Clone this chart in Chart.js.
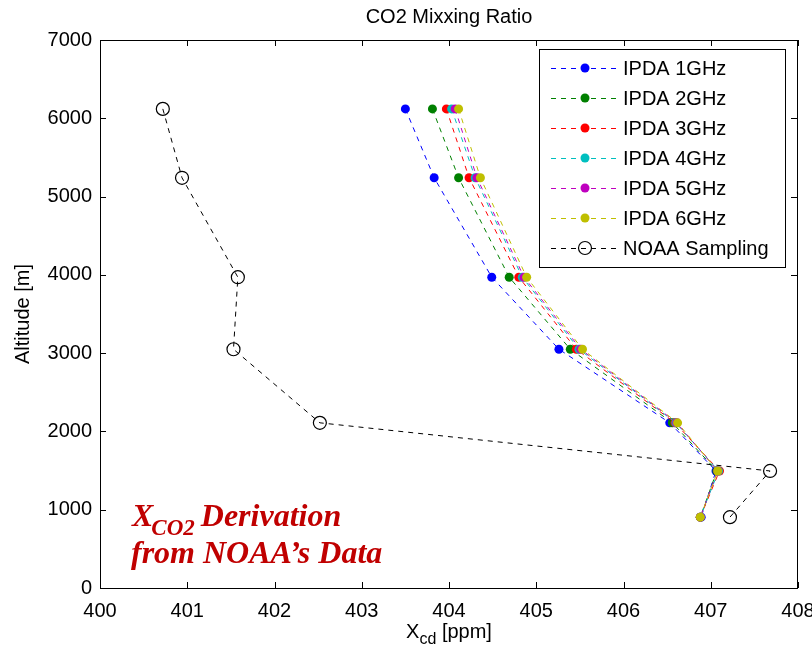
<!DOCTYPE html>
<html>
<head>
<meta charset="utf-8">
<script src="https://cdn.jsdelivr.net/npm/chart.js@4.4.1/dist/chart.umd.min.js"></script>
<style>
  html, body { margin: 0; padding: 0; background: #fff; }
  canvas { display: block; }
</style>
</head>
<body>
<canvas id="chart" width="812" height="652"></canvas>
<script>
// altitude levels [m], shared by every profile
const altitude = [6120, 5240, 3970, 3050, 2110, 1495, 905];

// XCO2 [ppm] per IPDA bandwidth
const ipda1 = [403.50, 403.83, 404.49, 405.26, 406.53, 407.06, 406.89];
const ipda2 = [403.81, 404.11, 404.69, 405.39, 406.56, 407.07, 406.88];
const ipda3 = [403.97, 404.23, 404.80, 405.46, 406.59, 407.10, 406.88];
const ipda4 = [404.03, 404.30, 404.84, 405.49, 406.60, 407.09, 406.88];
const ipda5 = [404.07, 404.32, 404.86, 405.51, 406.61, 407.08, 406.88];
const ipda6 = [404.11, 404.36, 404.89, 405.53, 406.62, 407.08, 406.88];
const noaa  = [400.72, 400.94, 401.58, 401.53, 402.52, 407.68, 407.22];

const seriesLabels = ['IPDA 1GHz', 'IPDA 2GHz', 'IPDA 3GHz', 'IPDA 4GHz', 'IPDA 5GHz', 'IPDA 6GHz', 'NOAA Sampling'];
const seriesValues = [ipda1, ipda2, ipda3, ipda4, ipda5, ipda6, noaa];
const seriesColors = ['#0000ff', '#008000', '#ff0000', '#00bfbf', '#bf00bf', '#bfbf00', '#000000'];

const xTicks = [400, 401, 402, 403, 404, 405, 406, 407, 408];
const yTicks = [0, 1000, 2000, 3000, 4000, 5000, 6000, 7000];

const FONT = '"Liberation Sans", Arial, Helvetica, sans-serif';

const datasets = seriesValues.map((vals, i) => {
  const isNoaa = i === seriesValues.length - 1;
  return {
    label: seriesLabels[i],
    data: vals.map((v, k) => ({ x: v, y: altitude[k] })),
    showLine: true,
    borderColor: seriesColors[i],
    borderWidth: 1,
    borderDash: [5, 5],
    backgroundColor: isNoaa ? 'rgba(0,0,0,0)' : seriesColors[i],
    pointBackgroundColor: isNoaa ? 'rgba(0,0,0,0)' : seriesColors[i],
    pointBorderColor: seriesColors[i],
    pointBorderWidth: isNoaa ? 1.2 : 0,
    pointRadius: isNoaa ? 6.5 : 4.5,
    pointHoverRadius: isNoaa ? 6.5 : 4.5,
    // later IPDA series sit on top, as in the plot
    order: isNoaa ? 7 : 6 - i,
    clip: false
  };
});

// frame, inside ticks, legend, titles and note
const decorations = {
  id: 'decorations',
  afterDraw(chart) {
    const ctx = chart.ctx;
    const a = chart.chartArea;
    const xs = chart.scales.x, ys = chart.scales.y;
    ctx.save();

    // box
    ctx.strokeStyle = '#000';
    ctx.lineWidth = 1;
    ctx.setLineDash([]);
    ctx.strokeRect(Math.round(a.left) + 0.5, Math.round(a.top) + 0.5,
      Math.round(a.right - a.left) - 1, Math.round(a.bottom - a.top));

    // inside ticks
    const tl = 6;
    ctx.beginPath();
    xTicks.forEach(v => {
      const px = Math.round(xs.getPixelForValue(v)) + 0.5;
      ctx.moveTo(px, a.bottom); ctx.lineTo(px, a.bottom - tl);
      ctx.moveTo(px, a.top); ctx.lineTo(px, a.top + tl);
    });
    yTicks.forEach(v => {
      const py = Math.round(ys.getPixelForValue(v)) + 0.5;
      ctx.moveTo(a.left, py); ctx.lineTo(a.left + tl, py);
      ctx.moveTo(a.right - 1, py); ctx.lineTo(a.right - 1 - tl, py);
    });
    ctx.stroke();

    // title
    ctx.fillStyle = '#000';
    ctx.font = '20px ' + FONT;
    ctx.textAlign = 'center';
    ctx.textBaseline = 'middle';
    ctx.fillText('CO2 Mixxing Ratio', (a.left + a.right) / 2, 17);

    // y title
    ctx.save();
    ctx.translate(23, (a.top + a.bottom) / 2);
    ctx.rotate(-Math.PI / 2);
    ctx.fillText('Altitude [m]', 0, 0);
    ctx.restore();

    // x title with subscript
    const cx = (a.left + a.right) / 2;
    const base = 638;
    ctx.textAlign = 'left';
    ctx.textBaseline = 'alphabetic';
    const wX = ctx.measureText('X').width;
    ctx.font = '16px ' + FONT;
    const wSub = ctx.measureText('cd').width;
    ctx.font = '20px ' + FONT;
    const wRest = ctx.measureText(' [ppm]').width;
    let sx = cx - (wX + wSub + wRest) / 2;
    ctx.fillText('X', sx, base);
    ctx.font = '16px ' + FONT;
    ctx.fillText('cd', sx + wX, base + 6);
    ctx.font = '20px ' + FONT;
    ctx.fillText(' [ppm]', sx + wX + wSub, base);

    // legend
    const lx = 539, ly = 49, lw = 246, lh = 218;
    ctx.fillStyle = '#fff';
    ctx.fillRect(lx, ly, lw, lh);
    ctx.strokeStyle = '#000';
    ctx.strokeRect(lx + 0.5, ly + 0.5, lw, lh);
    seriesLabels.forEach((lab, i) => {
      const y = 68 + i * 30;
      const col = seriesColors[i];
      const isNoaa = i === seriesLabels.length - 1;
      ctx.strokeStyle = col;
      ctx.lineWidth = 1;
      ctx.setLineDash([5, 5]);
      ctx.beginPath();
      ctx.moveTo(551, y + 0.5); ctx.lineTo(617, y + 0.5);
      ctx.stroke();
      ctx.setLineDash([]);
      ctx.beginPath();
      if (isNoaa) {
        ctx.arc(585, y, 6.5, 0, Math.PI * 2);
        ctx.lineWidth = 1.2;
        ctx.stroke();
      } else {
        ctx.arc(585, y, 4.5, 0, Math.PI * 2);
        ctx.fillStyle = col;
        ctx.fill();
      }
      ctx.fillStyle = '#000';
      ctx.font = '20px ' + FONT;
      ctx.textAlign = 'left';
      ctx.textBaseline = 'middle';
      ctx.fillText(lab, 623, y + 1);
    });

    // note
    const serif = '"Liberation Serif", "Times New Roman", serif';
    ctx.fillStyle = '#c00000';
    ctx.textBaseline = 'alphabetic';
    ctx.textAlign = 'left';
    ctx.font = 'italic bold 32px ' + serif;
    ctx.fillText('X', 132, 526);
    const w1 = ctx.measureText('X').width;
    ctx.font = 'italic bold 23px ' + serif;
    ctx.fillText('CO2', 132 + w1 - 2, 535);
    const w2 = ctx.measureText('CO2').width;
    ctx.font = 'italic bold 32px ' + serif;
    ctx.fillText(' Derivation', 132 + w1 + w2 - 4, 526);
    ctx.fillText('from NOAA\u2019s Data', 131, 563);

    ctx.restore();
  }
};

new Chart(document.getElementById('chart'), {
  type: 'scatter',
  data: { datasets },
  options: {
    responsive: false,
    animation: false,
    events: [],
    layout: { padding: { top: 40, right: 0, left: 0, bottom: 0 } },
    plugins: {
      legend: { display: false },
      title: { display: false },
      tooltip: { enabled: false }
    },
    scales: {
      x: {
        type: 'linear',
        min: 400,
        max: 408,
        afterFit: s => { s.height = 64; s.paddingLeft = 0; s.paddingRight = 14; },
        afterBuildTicks: s => { s.ticks = xTicks.map(v => ({ value: v })); },
        grid: { display: false, drawTicks: false },
        border: { display: false },
        ticks: { color: '#000', font: { family: FONT, size: 20 }, padding: 11, callback: v => String(v) }
      },
      y: {
        type: 'linear',
        min: 0,
        max: 7000,
        afterFit: s => { s.width = 100; s.paddingTop = 0; s.paddingBottom = 0; },
        afterBuildTicks: s => { s.ticks = yTicks.map(v => ({ value: v })); },
        grid: { display: false, drawTicks: false },
        border: { display: false },
        ticks: { color: '#000', font: { family: FONT, size: 20 }, padding: 8, callback: v => String(v) }
      }
    }
  },
  plugins: [decorations]
});
</script>
</body>
</html>
